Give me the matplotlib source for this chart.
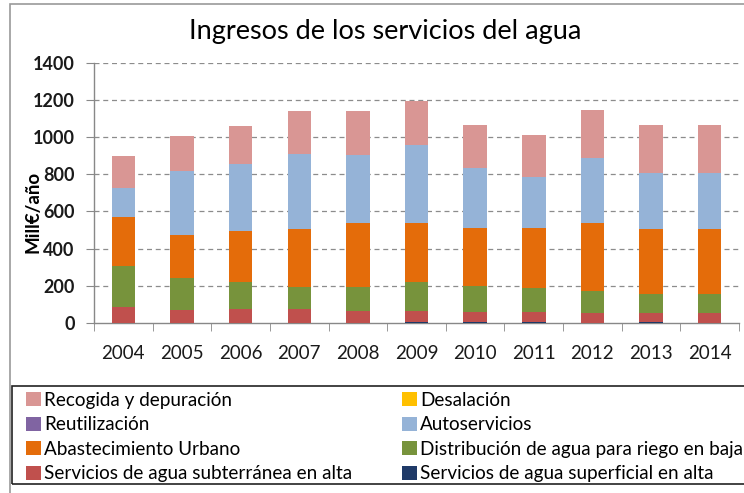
import matplotlib
matplotlib.use("Agg")
import matplotlib.pyplot as plt
from matplotlib.patches import Rectangle, Patch
import numpy as np

# values (Mill€/año), stacked bottom to top
years = ["2004", "2005", "2006", "2007", "2008", "2009", "2010", "2011", "2012", "2013", "2014"]
superficial = [0, 0, 0, 0, 0, 6, 5, 5, 0, 4, 0]
subterranea = [84, 70, 74, 74, 66, 60, 56, 56, 52, 48, 52]
riego = [222, 170, 145, 121, 129, 153, 138, 129, 120, 102, 102]
urbano = [262, 233, 277, 309, 344, 317, 310, 319, 364, 350, 350]
reutilizacion = [0, 0, 0, 0, 0, 0, 0, 0, 0, 0, 0]
desalacion = [0, 0, 0, 0, 0, 0, 0, 0, 0, 0, 0]
autoservicios = [160, 346, 359, 405, 363, 421, 323, 278, 351, 304, 304]
recogida = [172, 186, 204, 231, 238, 237, 234, 225, 260, 258, 258]

series = [
    ("Servicios de agua superficial en alta", superficial, "#1F3A68"),
    ("Servicios de agua subterránea en alta", subterranea, "#C0504D"),
    ("Distribución de agua para riego en baja", riego, "#77933C"),
    ("Abastecimiento Urbano", urbano, "#E46C0A"),
    ("Reutilización", reutilizacion, "#8064A2"),
    ("Autoservicios", autoservicios, "#95B3D7"),
    ("Desalación", desalacion, "#FFC000"),
    ("Recogida y depuración", recogida, "#D99694"),
]
colors = {name: c for name, _, c in series}

W, H = 744, 493
fig = plt.figure(figsize=(W / 100, H / 100), dpi=100)
ax = fig.add_axes([94 / W, 1 - 323 / H, (739 - 94) / W, (323 - 62.7) / H])

x = np.arange(len(years))
bottom = np.zeros(len(years))
for name, vals, c in series:
    vals = np.array(vals, dtype=float)
    ax.bar(x, vals, width=0.4, bottom=bottom, color=c, linewidth=0, zorder=3)
    bottom += vals

ax.set_xlim(-0.5, len(years) - 0.5)
ax.set_ylim(0, 1400)
ax.set_yticks(range(0, 1401, 200))
ax.set_yticklabels([str(v) for v in range(0, 1401, 200)],
                   fontfamily="Lato", fontweight="bold", fontsize=13)
ax.set_xticks(x)
ax.set_xticklabels(years, fontfamily="Lato", fontsize=13.5)
ax.set_xticks(np.arange(-0.5, len(years)), minor=True)
ax.tick_params(axis="x", which="major", length=0, pad=16, colors="#1a1a1a")
ax.tick_params(axis="x", which="minor", length=6, color="#888888", direction="out")
ax.tick_params(axis="y", length=6, pad=8, colors="#1a1a1a")
ax.tick_params(axis="y", color="#888888")

for v in range(200, 1401, 200):
    ax.axhline(v, color="#8c8c8c", lw=0.9, ls=(0, (4, 3)), zorder=1)

for s in ["top", "right"]:
    ax.spines[s].set_visible(False)
for s in ["left", "bottom"]:
    ax.spines[s].set_color("#888888")
    ax.spines[s].set_linewidth(1.0)

fig.text(385 / W, 1 - 31 / H, "Ingresos de los servicios del agua",
         ha="center", va="center", fontsize=19.5, fontfamily="Lato")
fig.text(33 / W, 1 - 212 / H, "Mill€/año", rotation=90, ha="center", va="center",
         fontsize=13.5, fontweight="bold", fontfamily="Lato")

# outer chart frame and legend frame
fig.add_artist(Rectangle((10 / W, 1 - 520 / H), 760 / W, 516 / H, transform=fig.transFigure,
                         fill=False, edgecolor="#9a9a9a", lw=1.2, clip_on=False))
fig.add_artist(Rectangle((12 / W, 1 - 484 / H), 760 / W, 98 / H, transform=fig.transFigure,
                         fill=False, edgecolor="#222222", lw=1.2, clip_on=False))

col1 = ["Recogida y depuración", "Reutilización", "Abastecimiento Urbano",
        "Servicios de agua subterránea en alta"]
col2 = ["Desalación", "Autoservicios", "Distribución de agua para riego en baja",
        "Servicios de agua superficial en alta"]
for names, x0 in [(col1, 22), (col2, 398)]:
    handles = [Patch(facecolor=colors[n], edgecolor="none") for n in names]
    fig.legend(handles, names, ncol=1, loc="upper left",
               bbox_to_anchor=(x0 / W, 1 - 388 / H), frameon=False,
               prop={"family": "Lato", "size": 13.6},
               handlelength=0.78, handleheight=0.78, handletextpad=0.2,
               labelspacing=0.4, borderpad=0.2, borderaxespad=0)

fig.savefig("out.png", dpi=100)
